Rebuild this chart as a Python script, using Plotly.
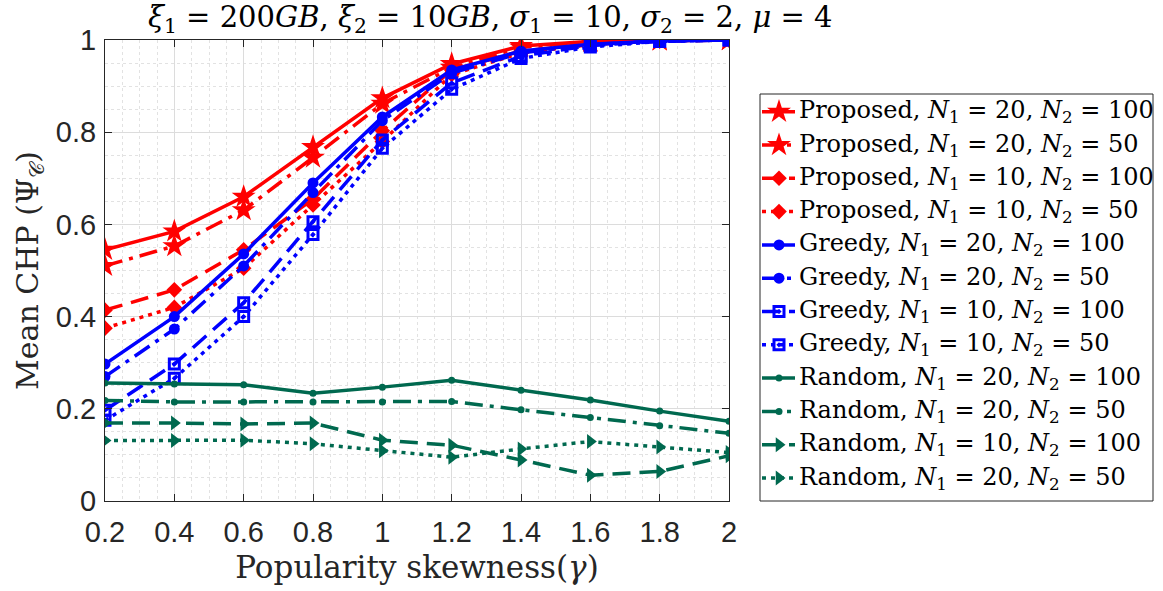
import plotly.graph_objects as go

# Popularity skewness values
gamma = [0.2, 0.4, 0.6, 0.8, 1.0, 1.2, 1.4, 1.6, 1.8, 2.0]

# Mean CHP per scheme / configuration
prop_20_100 = [0.545, 0.585, 0.660, 0.768, 0.874, 0.948, 0.987, 0.997, 1.000, 1.000]
prop_20_50 = [0.510, 0.553, 0.631, 0.745, 0.862, 0.940, 0.984, 0.996, 0.999, 1.000]
prop_10_100 = [0.414, 0.458, 0.545, 0.655, 0.803, 0.935, 0.976, 0.992, 0.998, 1.000]
prop_10_50 = [0.375, 0.420, 0.505, 0.642, 0.780, 0.925, 0.972, 0.990, 0.998, 1.000]
greedy_20_100 = [0.297, 0.400, 0.536, 0.690, 0.833, 0.935, 0.976, 0.991, 0.998, 1.000]
greedy_20_50 = [0.270, 0.373, 0.510, 0.669, 0.825, 0.928, 0.972, 0.990, 0.998, 1.000]
greedy_10_100 = [0.197, 0.297, 0.430, 0.606, 0.783, 0.907, 0.965, 0.988, 0.997, 1.000]
greedy_10_50 = [0.175, 0.266, 0.400, 0.578, 0.765, 0.893, 0.960, 0.985, 0.997, 1.000]
rand_20_100 = [0.256, 0.254, 0.252, 0.234, 0.247, 0.262, 0.240, 0.219, 0.195, 0.173]
rand_20_50 = [0.218, 0.215, 0.215, 0.215, 0.215, 0.216, 0.198, 0.181, 0.163, 0.147]
rand_10_100 = [0.169, 0.169, 0.167, 0.169, 0.132, 0.121, 0.089, 0.056, 0.064, 0.098]
rand_10_50b = [0.131, 0.131, 0.132, 0.124, 0.109, 0.095, 0.113, 0.129, 0.117, 0.105]

x_ticks = [0.2, 0.4, 0.6, 0.8, 1.0, 1.2, 1.4, 1.6, 1.8, 2.0]
x_tick_text = ["0.2", "0.4", "0.6", "0.8", "1", "1.2", "1.4", "1.6", "1.8", "2"]
y_ticks = [0, 0.2, 0.4, 0.6, 0.8, 1.0]
y_tick_text = ["0", "0.2", "0.4", "0.6", "0.8", "1"]

RED = "#FF0000"
BLUE = "#0000FF"
GREEN = "#00694F"

DASH = "18px,9px"
DOT = "4px,5px"
DASHDOT = "18px,7px,4px,7px"


def lbl(name, n1, n2):
    return f"{name}, <i>N</i><sub>1</sub> = {n1}, <i>N</i><sub>2</sub> = {n2}"


series = [
    (lbl("Proposed", 20, 100), prop_20_100, RED, "solid", "star", 18, None),
    (lbl("Proposed", 20, 50), prop_20_50, RED, DASHDOT, "star", 18, None),
    (lbl("Proposed", 10, 100), prop_10_100, RED, DASH, "diamond", 12, None),
    (lbl("Proposed", 10, 50), prop_10_50, RED, DOT, "diamond", 12, None),
    (lbl("Greedy", 20, 100), greedy_20_100, BLUE, "solid", "circle", 11, None),
    (lbl("Greedy", 20, 50), greedy_20_50, BLUE, DASHDOT, "circle", 11, None),
    (lbl("Greedy", 10, 100), greedy_10_100, BLUE, DASH, "square-open-dot", 10, 3),
    (lbl("Greedy", 10, 50), greedy_10_50, BLUE, DOT, "square-open-dot", 10, 3),
    (lbl("Random", 20, 100), rand_20_100, GREEN, "solid", "circle", 7, None),
    (lbl("Random", 20, 50), rand_20_50, GREEN, DASHDOT, "circle", 7, None),
    (lbl("Random", 10, 100), rand_10_100, GREEN, DASH, "triangle-right", 13, None),
    (lbl("Random", 20, 50), rand_10_50b, GREEN, DOT, "triangle-right", 13, None),
]

AXIS_COLOR = "#262626"
SERIF = "DejaVu Serif, Liberation Serif, serif"
SANS = "Liberation Sans, Arial, sans-serif"

# Figure geometry (pixels)
W, H = 1163, 591
ML, MR, MT, MB = 105, 6, 40, 90
PLOT_RIGHT = 729          # right edge of the data axes
LEG_L, LEG_R, LEG_T = 760, 1153, 94
paper_w = W - ML - MR
paper_h = H - MT - MB

main_dom = [0, (PLOT_RIGHT - ML) / paper_w]
leg_dom_x = [(LEG_L - ML) / paper_w, (LEG_R - ML) / paper_w]
leg_top = (H - MB - LEG_T) / paper_h
leg_h_px = H - MB - LEG_T

fig = go.Figure()


def marker_of(sym, size, color, mlw):
    m = dict(symbol=sym, size=size, color=color)
    m["line"] = dict(color=color, width=mlw) if mlw else dict(width=0)
    return m


for name, vals, color, dash, sym, size, mlw in series:
    fig.add_trace(go.Scatter(
        x=gamma, y=vals, name=name, mode="lines+markers",
        line=dict(color=color, width=3.5, dash=dash),
        marker=marker_of(sym, size, color, mlw),
        showlegend=False, xaxis="x", yaxis="y",
    ))

# Legend box drawn on its own hidden axes (pixel units from the box's top-left)
ROW0, ROW_STEP = 17.7, 33.3
for i, (name, vals, color, dash, sym, size, mlw) in enumerate(series):
    yy = ROW0 + i * ROW_STEP
    m = marker_of(sym, size, color, mlw)
    m["opacity"] = [0, 1, 0]
    fig.add_trace(go.Scatter(
        x=[2, 19, 35], y=[yy, yy, yy], mode="lines+markers",
        line=dict(color=color, width=3.5, dash=dash),
        marker=m, showlegend=False, hoverinfo="skip",
        xaxis="x2", yaxis="y2",
    ))
    fig.add_annotation(
        text=name, xref="x2", yref="y2", x=37, y=yy,
        xanchor="left", yanchor="middle", showarrow=False,
        font=dict(family=SERIF, size=24, color="black"),
    )

fig.add_shape(
    type="rect", xref="paper", yref="paper",
    x0=leg_dom_x[0], x1=leg_dom_x[1], y0=0, y1=leg_top,
    line=dict(color=AXIS_COLOR, width=1), fillcolor="rgba(0,0,0,0)", layer="below",
)

axis_common = dict(
    showline=True, linecolor=AXIS_COLOR, linewidth=1, mirror="ticks",
    ticks="inside", ticklen=7, tickcolor=AXIS_COLOR,
    showgrid=True, gridcolor="#dcdcdc", gridwidth=1,
    zeroline=False,
    tickfont=dict(family=SANS, size=29, color=AXIS_COLOR),
    minor=dict(dtick=0.05, showgrid=True, gridcolor="#e2e2e2", griddash="dot", ticks=""),
)

hidden = dict(visible=False, showgrid=False, zeroline=False, fixedrange=True)

fig.update_layout(
    xaxis=dict(
        domain=main_dom, range=[0.2, 2.0], tickvals=x_ticks, ticktext=x_tick_text,
        ticklabelstandoff=5,
        title=dict(text="Popularity skewness(<i>γ</i>)",
                   font=dict(family=SERIF, size=31, color=AXIS_COLOR), standoff=9),
        **axis_common,
    ),
    yaxis=dict(
        domain=[0, 1], range=[0, 1.0], tickvals=y_ticks, ticktext=y_tick_text,
        ticklabelstandoff=2,
        title=dict(text="Mean CHP (Ψ<sub>𝒞</sub>)",
                   font=dict(family=SERIF, size=30, color=AXIS_COLOR), standoff=8),
        **axis_common,
    ),
    xaxis2=dict(domain=leg_dom_x, range=[0, LEG_R - LEG_L], anchor="y2", **hidden),
    yaxis2=dict(domain=[0, leg_top], range=[leg_h_px, 0], anchor="x2", **hidden),
)

fig.add_annotation(
    text="<i>ξ</i><sub>1</sub> = 200<i>GB</i>, <i>ξ</i><sub>2</sub> = 10<i>GB</i>, "
         "<i>σ</i><sub>1</sub> = 10, <i>σ</i><sub>2</sub> = 2, <i>μ</i> = 4",
    xref="paper", yref="paper", x=(490 - ML) / paper_w, y=1.0,
    xanchor="center", yanchor="bottom",
    showarrow=False, font=dict(family=SERIF, size=29, color="black"), yshift=0,
)

fig.update_layout(
    width=W, height=H,
    margin=dict(l=ML, r=MR, t=MT, b=MB, autoexpand=False),
    paper_bgcolor="white", plot_bgcolor="white",
    showlegend=False,
)

fig.write_html("out.html")
